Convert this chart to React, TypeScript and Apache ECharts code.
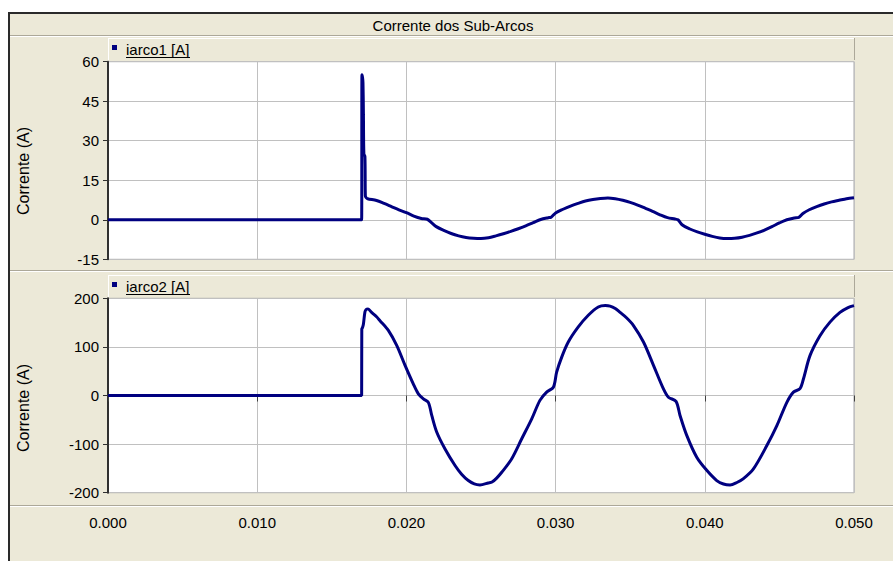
import React, { useEffect, useRef } from "react";
import * as echarts from "echarts";

// Time (s) and current (A) samples of the first sub-arc
const time1 = [
  0, 0.0169, 0.017, 0.01702, 0.01706, 0.01709, 0.01712, 0.01715, 0.01722, 0.01725, 0.0173,
  0.0174, 0.018, 0.0185, 0.019, 0.0195, 0.02, 0.0205, 0.021, 0.0214, 0.0217,
  0.022, 0.0225, 0.023, 0.0235, 0.024, 0.0245, 0.025, 0.0255, 0.026, 0.0265,
  0.027, 0.0275, 0.028, 0.0285, 0.029, 0.0295, 0.0297, 0.03, 0.0305, 0.031,
  0.0315, 0.032, 0.0325, 0.033, 0.0335, 0.034, 0.0345, 0.035, 0.0355, 0.036,
  0.0365, 0.037, 0.0375, 0.038, 0.0382, 0.0385, 0.039, 0.0395, 0.04, 0.0405,
  0.041, 0.0415, 0.042, 0.0425, 0.043, 0.0435, 0.044, 0.0445, 0.045, 0.0455,
  0.046, 0.0463, 0.0466, 0.047, 0.0475, 0.048, 0.0485, 0.049, 0.0495, 0.05,
];
const iarco1 = [
  0, 0, 0, 55, 54, 52, 40, 25, 24, 9, 8.4,
  8.0, 7.3, 6.2, 5.0, 3.8, 2.7, 1.4, 0.5, 0.2, -1.2,
  -2.6, -4.0, -5.2, -6.1, -6.7, -7.0, -7.1, -6.8, -6.1, -5.3,
  -4.4, -3.4, -2.3, -1.1, 0.1, 0.8, 1.0, 2.6, 4.0, 5.2,
  6.2, 7.1, 7.7, 8.1, 8.3, 8.0, 7.4, 6.6, 5.6, 4.4,
  3.2, 1.9, 0.8, 0.3, 0.0, -2.0, -3.5, -4.6, -5.5, -6.3,
  -6.9, -7.1, -7.0, -6.6, -5.9, -5.0, -3.9, -2.6, -1.2, 0.0,
  0.7, 0.9, 2.5, 3.8, 5.0, 6.0, 6.8, 7.4, 8.0, 8.4,
];

// Time (s) and current (A) samples of the second sub-arc
const time2 = [
  0, 0.0169, 0.017, 0.01701, 0.01706, 0.01712, 0.01722, 0.0173, 0.01743, 0.01767, 0.018,
  0.01823, 0.01879, 0.01935, 0.01991, 0.02046, 0.0208, 0.02114, 0.02147, 0.0217, 0.02203,
  0.02259, 0.02326, 0.0237, 0.02415, 0.02455, 0.02493, 0.02549, 0.02574, 0.02605, 0.02639,
  0.02706, 0.02773, 0.0284, 0.02895, 0.0294, 0.02985, 0.03007, 0.03041, 0.03085, 0.03152,
  0.03219, 0.03286, 0.03333, 0.03365, 0.034, 0.03432, 0.03475, 0.03522, 0.03589, 0.03656,
  0.03722, 0.03756, 0.03807, 0.03834, 0.03879, 0.03946, 0.04013, 0.0408, 0.04125, 0.04169,
  0.04215, 0.04259, 0.04326, 0.04416, 0.04483, 0.0455, 0.04594, 0.04638, 0.04661, 0.04705,
  0.04772, 0.04839, 0.04906, 0.0496, 0.05,
];
const iarco2 = [
  0, 0, 0, 137, 140, 147, 172, 177, 178, 171, 162,
  154, 134, 103, 62, 24, 3.5, -7, -14, -41, -75,
  -110, -144, -162, -175, -182, -184, -180, -178, -170, -158,
  -130, -89, -48, -10, 7, 17, 48, 79, 110, 141,
  165, 182, 185, 184, 179, 171, 160, 144, 110, 62,
  14, -3.5, -12, -41, -82, -127, -154, -175, -182, -184,
  -179, -171, -151, -103, -62, -14, 7, 14, 34, 82,
  123, 151, 171, 181, 185,
];

const ticks1 = [-15, 0, 15, 30, 45, 60];
const ticks2 = [-200, -100, 0, 100, 200];
const timeTicks = [0, 0.01, 0.02, 0.03, 0.04, 0.05];

const title = "Corrente dos Sub-Arcos";
const legend1 = "iarco1 [A]";
const legend2 = "iarco2 [A]";
const yName = "Corrente (A)";

const BEIGE = "#ECE9D8";
const SHADE = "#ACA899";
const GRIDLINE = "#C0C0C0";
const NAVY = "#000080";
const FONT = "'Liberation Sans', Arial, sans-serif";

function legendBar(y: number, label: string) {
  const x0 = 108;
  const x1 = 854;
  const h = 22;
  return [
    { type: "rect", shape: { x: x0, y, width: x1 - x0, height: h }, style: { fill: BEIGE }, silent: true },
    { type: "line", shape: { x1: x0, y1: y + 0.5, x2: x1, y2: y + 0.5 }, style: { stroke: "#ffffff", lineWidth: 1 } },
    { type: "line", shape: { x1: x0 + 0.5, y1: y, x2: x0 + 0.5, y2: y + h }, style: { stroke: "#ffffff", lineWidth: 1 } },
    { type: "line", shape: { x1: x1 + 0.5, y1: y, x2: x1 + 0.5, y2: y + h }, style: { stroke: SHADE, lineWidth: 1 } },
    { type: "rect", shape: { x: 112, y: y + 7, width: 5, height: 5 }, style: { fill: NAVY } },
    {
      type: "text",
      x: 126,
      y: y + 11,
      style: { text: label, fill: "#000", font: `15px ${FONT}`, textVerticalAlign: "middle" },
    },
    { type: "line", shape: { x1: 126, y1: y + 19.5, x2: 190, y2: y + 19.5 }, style: { stroke: "#000", lineWidth: 1 } },
  ];
}

function sunkenLine(y: number) {
  return [
    { type: "line", shape: { x1: 10, y1: y + 0.5, x2: 893, y2: y + 0.5 }, style: { stroke: SHADE, lineWidth: 1 } },
    { type: "line", shape: { x1: 10, y1: y + 1.5, x2: 893, y2: y + 1.5 }, style: { stroke: "#ffffff", lineWidth: 1 } },
  ];
}

export default function App() {
  const ref = useRef<HTMLDivElement>(null);

  useEffect(() => {
    if (!ref.current) return;
    const chart = echarts.init(ref.current, null, { renderer: "svg" });

    const data1 = time1.map((t, i) => [t, iarco1[i]]);
    const data2 = time2.map((t, i) => [t, iarco2[i]]);

    const yLabel = { color: "#000", fontSize: 15, fontFamily: FONT, margin: 9 };
    const split = { show: true, lineStyle: { color: GRIDLINE, width: 1 } };
    const lineSeries = {
      type: "line",
      showSymbol: false,
      smooth: 0.3,
      lineStyle: { color: NAVY, width: 3 },
      itemStyle: { color: NAVY },
    };

    chart.setOption({
      animation: false,
      backgroundColor: BEIGE,
      grid: [
        { left: 108, right: 39, top: 61.7, height: 197.6, show: true, backgroundColor: "#fff", borderColor: "#A8A8A8", borderWidth: 1 },
        { left: 108, right: 39, top: 298.3, height: 194.4, show: true, backgroundColor: "#fff", borderColor: "#A8A8A8", borderWidth: 1 },
      ],
      xAxis: [
        {
          gridIndex: 0, type: "value", min: 0, max: 0.05, interval: 0.01,
          axisLine: { show: false }, axisTick: { show: false }, axisLabel: { show: false },
          splitLine: split,
        },
        {
          gridIndex: 1, type: "value", min: 0, max: 0.05, interval: 0.01, offset: 14,
          axisLine: { show: false },
          axisTick: { show: true, length: 6, lineStyle: { color: "#404040", width: 1 } },
          axisLabel: {
            color: "#000", fontSize: 15, fontFamily: FONT, margin: 8,
            formatter: (v: number) => (timeTicks.some((t) => Math.abs(t - v) < 1e-9) ? v.toFixed(3) : ""),
          },
          splitLine: split,
        },
      ],
      yAxis: [
        {
          gridIndex: 0, type: "value", min: ticks1[0], max: ticks1[ticks1.length - 1], interval: 15,
          axisLine: { show: true, lineStyle: { color: "#303030", width: 2 } },
          axisTick: { show: true, length: 5, lineStyle: { color: "#303030" } },
          axisLabel: yLabel, splitLine: split,
        },
        {
          gridIndex: 1, type: "value", min: ticks2[0], max: ticks2[ticks2.length - 1], interval: 100,
          axisLine: { show: true, lineStyle: { color: "#303030", width: 2 } },
          axisTick: { show: true, length: 5, lineStyle: { color: "#303030" } },
          axisLabel: yLabel, splitLine: split,
        },
      ],
      series: [
        { ...lineSeries, name: legend1, xAxisIndex: 0, yAxisIndex: 0, data: data1 },
        { ...lineSeries, name: legend2, xAxisIndex: 1, yAxisIndex: 1, data: data2 },
      ],
      graphic: [
        // outer white margin and dark frame
        { type: "rect", shape: { x: 0, y: 0, width: 893, height: 12 }, style: { fill: "#fff" }, silent: true },
        { type: "rect", shape: { x: 0, y: 0, width: 8, height: 561 }, style: { fill: "#fff" }, silent: true },
        { type: "line", shape: { x1: 8, y1: 13, x2: 893, y2: 13 }, style: { stroke: "#2a2a2a", lineWidth: 2 } },
        { type: "line", shape: { x1: 9, y1: 12, x2: 9, y2: 561 }, style: { stroke: "#2a2a2a", lineWidth: 2 } },
        // title bar
        ...sunkenLine(35),
        {
          type: "text", x: 453, y: 25,
          style: { text: title, fill: "#000", font: `15px ${FONT}`, textAlign: "center", textVerticalAlign: "middle" },
        },
        ...legendBar(38, legend1),
        ...sunkenLine(270),
        ...legendBar(275, legend2),
        ...sunkenLine(505),
        {
          type: "text", x: 23, y: 171, rotation: Math.PI / 2,
          style: { text: yName, fill: "#000", font: `16px ${FONT}`, textAlign: "center", textVerticalAlign: "middle" },
        },
        {
          type: "text", x: 23, y: 408, rotation: Math.PI / 2,
          style: { text: yName, fill: "#000", font: `16px ${FONT}`, textAlign: "center", textVerticalAlign: "middle" },
        },
      ],
    });

    return () => chart.dispose();
  }, []);

  return <div ref={ref} style={{ position: "fixed", left: 0, top: 0, width: 893, height: 561 }} />;
}
